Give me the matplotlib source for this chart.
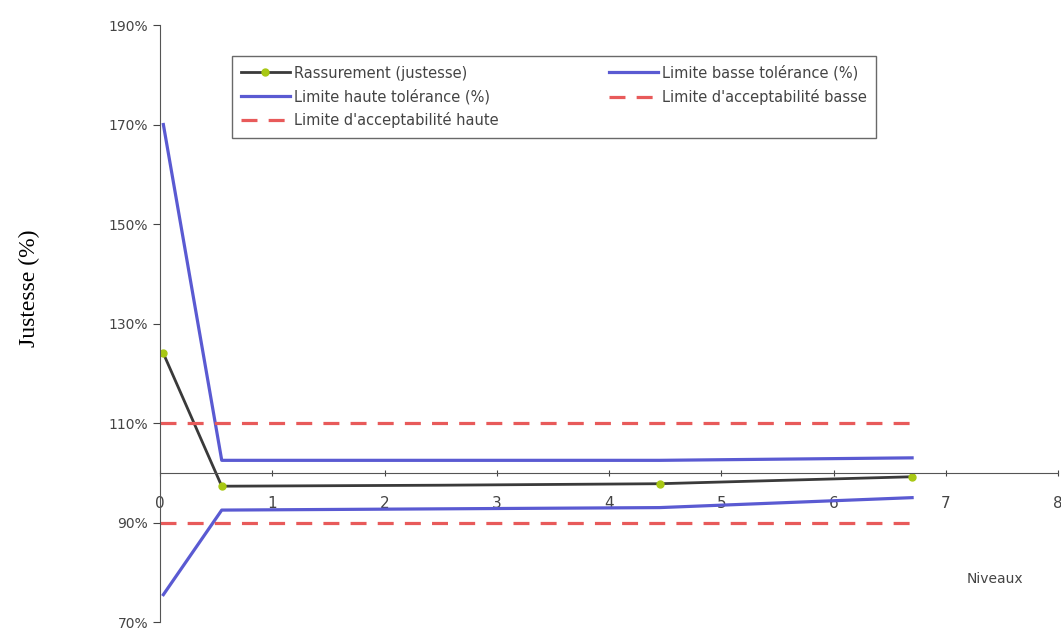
import matplotlib.pyplot as plt
from matplotlib.ticker import FuncFormatter

# Data (x = niveau, y = %)
x_mesure = [0.03, 0.55, 2.5, 4.45, 6.7]
y_mesure = [124, 97.3, 97.5, 97.8, 99.2]
x_tol = [0.03, 0.55, 4.45, 6.7]
y_tol_haute = [170, 102.5, 102.5, 103]
y_tol_basse = [75.5, 92.5, 93, 95]
x_acc = [0, 6.7]
y_acc_haute = [110, 110]
y_acc_basse = [90, 90]
y_ticks = [70, 90, 110, 130, 150, 170, 190]
x_ticks = [0, 1, 2, 3, 4, 5, 6, 7, 8]

fig = plt.figure(figsize=(10.61, 6.34), dpi=100)
ax = fig.add_axes([0.1508, 0.0189, 0.8464, 0.9416])

blue = "#5a5ad2"
red = "#e85a5a"

l1, = ax.plot(x_mesure, y_mesure, color="#3a3a3a", lw=2, marker="o", ms=5,
              markevery=[0, 1, 3, 4], mfc="#a8c814", mec="#a8c814",
              label="Rassurement (justesse)")
l2, = ax.plot(x_tol, y_tol_basse, color=blue, lw=2.3, label="Limite basse tolérance (%)")
l3, = ax.plot(x_tol, y_tol_haute, color=blue, lw=2.3, label="Limite haute tolérance (%)")
l4, = ax.plot(x_acc, y_acc_basse, color=red, lw=2.3, ls=(0, (5, 3.5)), label="Limite d'acceptabilité basse")
l5, = ax.plot(x_acc, y_acc_haute, color=red, lw=2.3, ls=(0, (5, 3.5)), label="Limite d'acceptabilité haute")

ax.set_xlim(0, 8)
ax.set_ylim(70, 190)
ax.set_yticks(y_ticks)
ax.set_xticks(x_ticks)
ax.yaxis.set_major_formatter(FuncFormatter(lambda v, p: f"{v:.0f}%"))

ax.spines["top"].set_visible(False)
ax.spines["right"].set_visible(False)
ax.spines["left"].set_color("#555555")
ax.spines["bottom"].set_position(("data", 100))
ax.spines["bottom"].set_color("#555555")
ax.tick_params(axis="y", colors="#444444", labelsize=10, length=5)
ax.tick_params(axis="x", colors="#444444", labelsize=11, length=5, pad=14, direction="inout")

ax.legend(handles=[l1, l3, l5, l2, l4], loc="upper left", bbox_to_anchor=(0.072, 0.961),
          ncol=2, fontsize=10.5, frameon=True, fancybox=False, edgecolor="#444444",
          handlelength=3.3, handletextpad=0.3, columnspacing=7.6, borderpad=0.65,
          labelspacing=0.55, labelcolor="#444444")

fig.text(0.028, 0.545, "Justesse (%)", rotation=90, va="center", ha="center",
         fontsize=17, family="Liberation Serif")
fig.text(0.938, 0.087, "Niveaux", ha="center", va="center", fontsize=10, color="#444444")

fig.savefig("out.png", dpi=100)
